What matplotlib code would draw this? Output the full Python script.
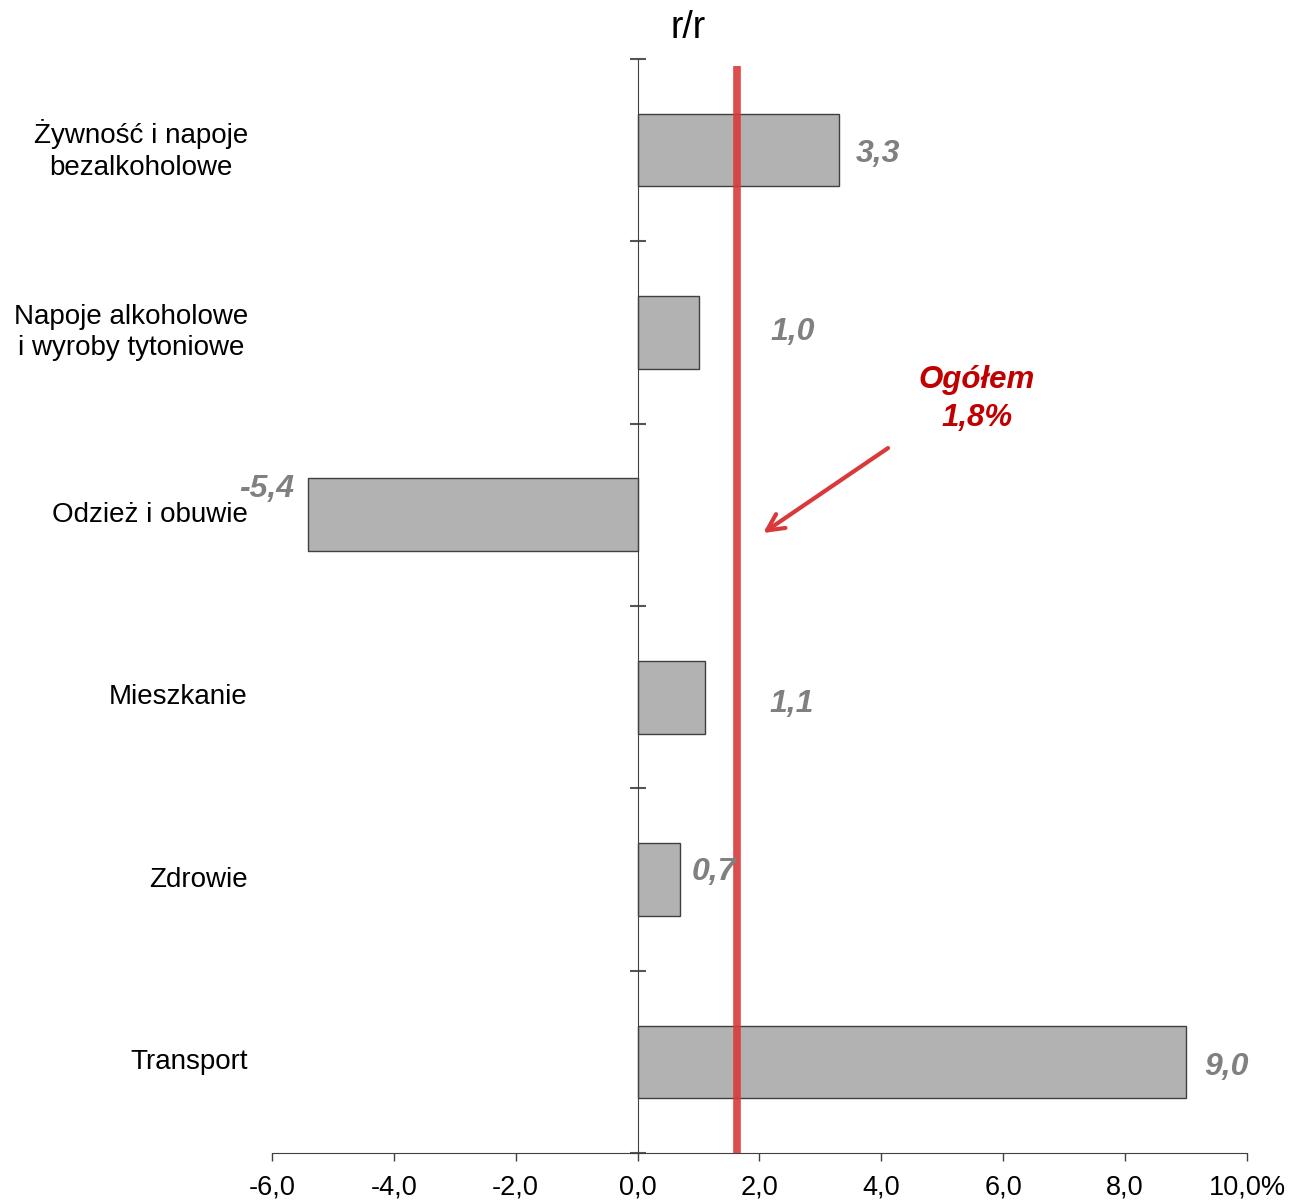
import numpy as np
import matplotlib
matplotlib.use("Agg")
import matplotlib.pyplot as plt
from matplotlib.transforms import blended_transform_factory

plt.rcParams["font.family"] = ["Liberation Sans", "DejaVu Sans"]

# ----------------------------------------------------
# Data
# ----------------------------------------------------

categories = [
    "Żywność i napoje\nbezalkoholowe",
    "Napoje alkoholowe\ni wyroby tytoniowe",
    "Odzież i obuwie",
    "Mieszkanie",
    "Zdrowie",
    "Transport",
]
values = [3.3, 1.0, -5.4, 1.1, 0.7, 9.0]
value_labels = ["3,3", "1,0", "-5,4", "1,1", "0,7", "9,0"]

total_line = 1.63          # where the red line is drawn
total_label = "Ogółem\n1,8%"

x_ticks = [-6, -4, -2, 0, 2, 4, 6, 8, 10]
x_tick_labels = ["-6,0", "-4,0", "-2,0", "0,0", "2,0", "4,0", "6,0", "8,0", "10,0%"]

# label positions (data coords) for the value labels
label_pos = [(3.94, 0.02), (2.55, 1.0), (-6.08, 1.86),
             (2.53, 3.04), (1.25, 3.96), (9.66, 5.03)]

# ----------------------------------------------------
# Figure
# ----------------------------------------------------

fig = plt.figure(figsize=(13.01, 12.0), dpi=100)
ax = fig.add_axes([0.209, 0.039, 0.7495, 0.912])

y = np.arange(len(categories))

ax.barh(y, values, height=0.4, color="#b2b2b2",
        edgecolor="#404040", linewidth=1.0, zorder=2)

ax.axvline(total_line, ymin=0, ymax=0.9936, color="#d9393a",
           alpha=0.9, linewidth=5.5, solid_capstyle="butt", zorder=3)

ax.set_xlim(-6, 10)
ax.set_ylim(5.5, -0.5)

# spines
for s in ["top", "right"]:
    ax.spines[s].set_visible(False)
ax.spines["left"].set_position(("data", 0))
ax.spines["left"].set_color("#404040")
ax.spines["bottom"].set_color("#404040")

# y ticks at category boundaries, crossing the axis
ax.set_yticks(np.arange(-0.5, len(categories), 1.0))
ax.set_yticklabels([])
ax.tick_params(axis="y", direction="inout", length=12, color="#555555", width=1.5)

ax.set_xticks(x_ticks)
ax.set_xticklabels(x_tick_labels, fontsize=19.5)
ax.tick_params(axis="x", direction="out", length=6, color="#404040", width=1, pad=9)

# category labels
trans = blended_transform_factory(ax.transAxes, ax.transData)
for yi, cat in zip(y, categories):
    ax.text(-0.0246, yi, cat, transform=trans, ha="right", va="center",
            multialignment="center", fontsize=20, linespacing=1.27)

# value labels
for (lx, ly), txt in zip(label_pos, value_labels):
    ax.text(lx, ly, txt, ha="center", va="center", fontsize=23,
            fontweight="bold", fontstyle="italic", color="#808080", zorder=4)

# annotation
ax.text(5.57, 1.365, total_label, ha="center", va="center", fontsize=22.5,
        fontweight="bold", fontstyle="italic", color="#c00000",
        linespacing=1.32)
ax.annotate("", xy=(2.06, 2.10), xytext=(4.11, 1.634),
            arrowprops=dict(arrowstyle="->", color="#d9393a", lw=3,
                            mutation_scale=30, shrinkA=0, shrinkB=0))

fig.text(0.529, 0.977, "r/r", ha="center", va="center", fontsize=27)

fig.savefig("out.png", dpi=100)
